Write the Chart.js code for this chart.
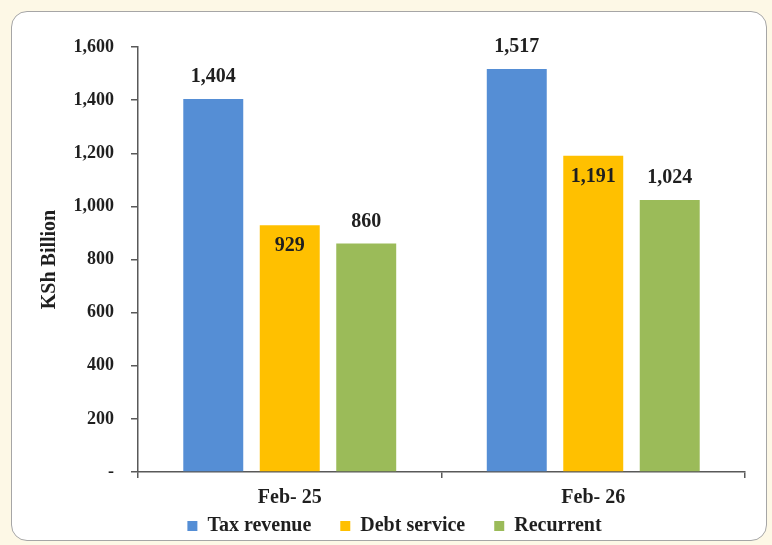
<!DOCTYPE html>
<html>
<head>
<meta charset="utf-8">
<script src="https://cdn.jsdelivr.net/npm/chart.js@4.4.1/dist/chart.umd.min.js"></script>
<style>
  html, body { margin: 0; padding: 0; background: #fdf8e6; }
  #frame {
    position: absolute; left: 11px; top: 11px; width: 754px; height: 528px;
    background: #fff; border: 1.5px solid #a6a6a6; border-radius: 16px;
  }
  #wrap { position: absolute; left: 0; top: 0; width: 772px; height: 545px; }
</style>
</head>
<body>
<div id="frame"></div>
<div id="wrap"><canvas id="chart" width="772" height="545"></canvas></div>
<script>
// chart data
const categories = ['Feb- 25', 'Feb- 26'];
const taxRevenue = [1404, 1517];
const debtService = [929, 1191];
const recurrent = [860, 1024];
const seriesNames = ['Tax revenue', 'Debt service', 'Recurrent'];
const yTicks = [0, 200, 400, 600, 800, 1000, 1200, 1400, 1600];

const FONT = "'Liberation Serif', 'Times New Roman', serif";
const TEXT = '#1f1f1f';

// simple value labels on the bars
const valueLabels = {
    id: 'valueLabels',
    afterDatasetsDraw(chart) {
        const ctx = chart.ctx;
        ctx.save();
        ctx.font = `bold 20px ${FONT}`;
        ctx.fillStyle = TEXT;
        ctx.textAlign = 'center';
        ctx.textBaseline = 'middle';
        chart.data.datasets.forEach((ds, i) => {
            chart.getDatasetMeta(i).data.forEach((bar, j) => {
                const txt = ds.data[j].toLocaleString('en-US');
                const y = i === 1 ? bar.y + 21 : bar.y - 22;
                ctx.fillText(txt, bar.x, y);
            });
        });
        ctx.restore();
    }
};

// legend needs wide item gaps but sits close under the axis labels
const legendShift = {
    id: 'legendShift',
    afterLayout(chart) {
        const lg = chart.legend;
        lg.top = 487;
        lg.bottom = lg.top + 80;
        lg.left += 22;
        lg.right += 22;
    }
};

new Chart(document.getElementById('chart'), {
    type: 'bar',
    data: {
        labels: categories,
        datasets: [
            { label: seriesNames[0], data: taxRevenue, backgroundColor: '#558ed5' },
            { label: seriesNames[1], data: debtService, backgroundColor: '#ffc000' },
            { label: seriesNames[2], data: recurrent, backgroundColor: '#9bbb59' }
        ]
    },
    options: {
        responsive: false,
        animation: false,
        devicePixelRatio: 1,
        categoryPercentage: 0.756,
        barPercentage: 0.784,
        layout: { padding: { left: 0, top: 47, right: 27, bottom: 4 } },
        plugins: {
            tooltip: { enabled: false },
            legend: {
                position: 'bottom',
                maxHeight: 35,
                labels: {
                    boxWidth: 10,
                    boxHeight: 10,
                    padding: 29,
                    color: TEXT,
                    font: { family: FONT, size: 20, weight: 'bold' }
                }
            }
        },
        scales: {
            x: {
                afterFit: s => { s.height = 34; },
                grid: { offset: true, drawOnChartArea: false, tickLength: 6, color: '#595959', lineWidth: 1.5 },
                border: { color: '#595959', width: 1.5 },
                ticks: { color: TEXT, padding: 8, font: { family: FONT, size: 20, weight: 'bold' } }
            },
            y: {
                min: 0,
                max: 1600,
                afterFit: s => { s.width = 138; },
                afterBuildTicks: s => { s.ticks = yTicks.map(v => ({ value: v })); },
                grid: { drawOnChartArea: false, tickLength: 7, color: '#595959', lineWidth: 1.5 },
                border: { color: '#595959', width: 1.5 },
                ticks: {
                    color: TEXT,
                    padding: 17,
                    font: { family: FONT, size: 18, weight: 'bold' },
                    callback: v => v === 0 ? '-' : v.toLocaleString('en-US')
                },
                title: {
                    display: true,
                    text: 'KSh Billion',
                    color: TEXT,
                    padding: { top: 38, bottom: 0 },
                    font: { family: FONT, size: 20, weight: 'bold' }
                }
            }
        }
    },
    plugins: [valueLabels, legendShift]
});
</script>
</body>
</html>
